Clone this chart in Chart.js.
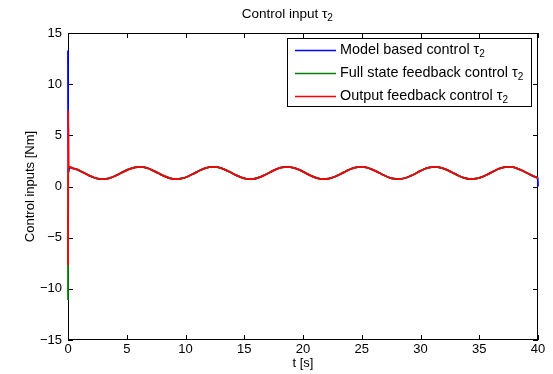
<!DOCTYPE html>
<html>
<head>
<meta charset="utf-8">
<script src="https://cdn.jsdelivr.net/npm/chart.js@4.4.1/dist/chart.umd.min.js"></script>
<style>
  html, body { margin: 0; padding: 0; background: #fff; }
  #wrap { width: 553px; height: 374px; }
</style>
</head>
<body>
<div id="wrap"><canvas id="chart" width="553" height="374"></canvas></div>
<script>
// time samples [s]
const timeStart = [0, 0.02, 0.06, 0.12];
const timeSteady = [
  0.2, 0.7, 1.2, 1.7, 2.2, 2.7, 3.2, 3.7, 4.2, 4.7,
  5.2, 5.7, 6.2, 6.7, 7.2, 7.7, 8.2, 8.7, 9.2, 9.7,
  10.2, 10.7, 11.2, 11.7, 12.2, 12.7, 13.2, 13.7, 14.2, 14.7,
  15.2, 15.7, 16.2, 16.7, 17.2, 17.7, 18.2, 18.7, 19.2, 19.7,
  20.2, 20.7, 21.2, 21.7, 22.2, 22.7, 23.2, 23.7, 24.2, 24.7,
  25.2, 25.7, 26.2, 26.7, 27.2, 27.7, 28.2, 28.7, 29.2, 29.7,
  30.2, 30.7, 31.2, 31.7, 32.2, 32.7, 33.2, 33.7, 34.2, 34.7,
  35.2, 35.7, 36.2, 36.7, 37.2, 37.7, 38.2, 38.7, 39.2, 39.7
];
const timeEnd = [39.97, 40];

// steady oscillation of tau_2 [Nm]
const tauSteady = [
  1.87, 1.69, 1.42, 1.13, 0.88, 0.74, 0.74, 0.88, 1.14, 1.43,
  1.70, 1.88, 1.92, 1.81, 1.58, 1.29, 1.01, 0.80, 0.72, 0.79,
  0.98, 1.26, 1.56, 1.79, 1.91, 1.89, 1.72, 1.46, 1.16, 0.91,
  0.75, 0.73, 0.86, 1.10, 1.39, 1.67, 1.86, 1.92, 1.83, 1.62,
  1.33, 1.04, 0.82, 0.72, 0.77, 0.95, 1.22, 1.52, 1.77, 1.90,
  1.90, 1.75, 1.50, 1.20, 0.93, 0.76, 0.73, 0.83, 1.06, 1.35,
  1.64, 1.84, 1.92, 1.85, 1.65, 1.37, 1.08, 0.85, 0.73, 0.76,
  0.92, 1.18, 1.48, 1.74, 1.89, 1.91, 1.78, 1.54, 1.24, 0.97
];

// transients at start and end of each series
const modelStart = [13.3, 1.3, 1.5, 1.9];
const modelEnd = [0.85, 0.0];
const fullStart = [-11.1, 1.8, 1.9, 1.95];
const fullEnd = [0.85, 0.84];
const outputStart = [-7.7, 7.4, 1.9, 1.95];
const outputEnd = [0.85, 0.84];

const labels = [
  'Model based control τ₂',
  'Full state feedback control τ₂',
  'Output feedback control τ₂'
];
const colors = ['#0000ff', '#008000', '#ff0000'];

const xTicks = [0, 5, 10, 15, 20, 25, 30, 35, 40];
const yTicks = [-15, -10, -5, 0, 5, 10, 15];

const FONT = '"Liberation Sans", Arial, Helvetica, sans-serif';

const time = timeStart.concat(timeSteady, timeEnd);
function pts(start, end) {
  const ys = start.concat(tauSteady, end);
  return time.map((t, i) => ({ x: t, y: ys[i] }));
}

// draw text with "₂" as a real lowered subscript
function subText(ctx, text, x, y, size) {
  const parts = text.split('₂');
  ctx.font = size + 'px ' + FONT;
  ctx.fillText(parts[0], x, y);
  let w = ctx.measureText(parts[0]).width;
  if (parts.length > 1) {
    ctx.font = Math.round(size * 0.72) + 'px ' + FONT;
    ctx.fillText('2', x + w, y + size * 0.32);
    w += ctx.measureText('2').width;
  }
  return w;
}

const framePlugin = {
  id: 'frame',
  beforeDatasetsDraw(chart) {
    const { ctx, chartArea: a, scales } = chart;
    ctx.save();
    ctx.strokeStyle = '#000';
    ctx.lineWidth = 1;
    ctx.strokeRect(Math.round(a.left) + 0.5, Math.round(a.top) + 0.5,
      Math.round(a.right - a.left) - 1, Math.round(a.bottom - a.top) - 1);
    ctx.beginPath();
    const len = 5;
    xTicks.forEach(v => {
      const px = Math.round(scales.x.getPixelForValue(v)) + 0.5;
      ctx.moveTo(px, a.bottom); ctx.lineTo(px, a.bottom - len);
      ctx.moveTo(px, a.top); ctx.lineTo(px, a.top + len);
    });
    yTicks.forEach(v => {
      const py = Math.round(scales.y.getPixelForValue(v)) + 0.5;
      ctx.moveTo(a.left, py); ctx.lineTo(a.left + len, py);
      ctx.moveTo(a.right, py); ctx.lineTo(a.right - len, py);
    });
    ctx.stroke();
    ctx.restore();
  },
  afterDraw(chart) {
    const { ctx } = chart;
    ctx.save();
    ctx.fillStyle = '#000';
    ctx.textBaseline = 'middle';
    // title
    ctx.font = '13.5px ' + FONT;
    const tw = ctx.measureText('Control input τ').width + 7;
    subText(ctx, 'Control input τ₂', 288 - tw / 2, 14, 13.5);

    // legend box inside axes
    const bx = 287.5, by = 38.5, bw = 244, bh = 68;
    ctx.fillStyle = '#fff';
    ctx.fillRect(bx, by, bw, bh);
    ctx.strokeStyle = '#000';
    ctx.lineWidth = 1;
    ctx.strokeRect(bx, by, bw, bh);
    labels.forEach((label, i) => {
      const y = 50 + i * 23;
      ctx.strokeStyle = colors[i];
      ctx.lineWidth = 1.4;
      ctx.beginPath();
      ctx.moveTo(295, y + 0.5);
      ctx.lineTo(336, y + 0.5);
      ctx.stroke();
      ctx.fillStyle = '#000';
      subText(ctx, label, 340, y, 14.4);
    });
    ctx.restore();
  }
};

new Chart(document.getElementById('chart'), {
  type: 'line',
  data: {
    datasets: [
      { label: labels[0], data: pts(modelStart, modelEnd), borderColor: colors[0], order: 3 },
      { label: labels[1], data: pts(fullStart, fullEnd), borderColor: colors[1], order: 2 },
      { label: labels[2], data: pts(outputStart, outputEnd), borderColor: colors[2], order: 1 }
    ].map(ds => Object.assign(ds, {
      borderWidth: 1.8,
      pointRadius: 0,
      fill: false,
      cubicInterpolationMode: 'monotone',
      clip: 3
    }))
  },
  options: {
    responsive: false,
    animation: false,
    layout: { padding: { left: 0, right: 15, top: 33, bottom: 0 } },
    plugins: {
      legend: { display: false },
      title: { display: false },
      tooltip: { enabled: false }
    },
    scales: {
      x: {
        type: 'linear',
        min: 0,
        max: 40,
        afterBuildTicks: s => { s.ticks = xTicks.map(v => ({ value: v })); },
        afterFit: s => { s.height = 34; },
        grid: { display: false, drawTicks: false },
        border: { display: false },
        ticks: { color: '#000', font: { family: FONT, size: 13 }, padding: 2, maxRotation: 0 },
        title: {
          display: true, text: 't [s]', color: '#000',
          font: { family: FONT, size: 13 }, padding: { top: 0, bottom: 3 }
        }
      },
      y: {
        min: -15,
        max: 15,
        afterBuildTicks: s => { s.ticks = yTicks.map(v => ({ value: v })); },
        afterFit: s => { s.width = 68; },
        grid: { display: false, drawTicks: false },
        border: { display: false },
        ticks: {
          color: '#000', font: { family: FONT, size: 13 }, padding: 6,
          callback: v => String(v).replace('-', '\u2212')
        },
        title: {
          display: true, text: 'Control inputs [Nm]', color: '#000',
          font: { family: FONT, size: 13 }, padding: { top: 23, bottom: 0 }
        }
      }
    }
  },
  plugins: [framePlugin]
});
</script>
</body>
</html>
